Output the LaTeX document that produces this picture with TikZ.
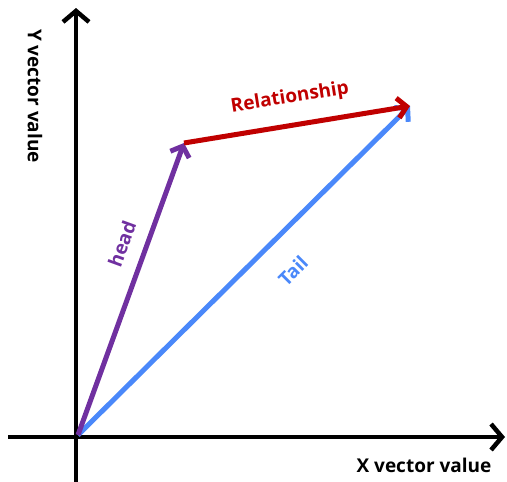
\documentclass[tikz,border=0pt]{standalone}
\usepackage{fontspec}
\setmainfont{Open Sans}
\usetikzlibrary{arrows.meta}
\definecolor{headc}{HTML}{7030A0}
\definecolor{relc}{HTML}{C00000}
\definecolor{tailc}{HTML}{4A88FA}
\tikzset{
  axis/.style={line width=4.5pt, -{Straight Barb[length=11pt,width=26pt,line width=4.5pt]}},
  vec/.style={line width=5pt, -{Straight Barb[length=9pt,width=20pt,line width=5pt]}},
  lbl/.style={font=\bfseries\fontsize{19}{21}\selectfont, inner sep=0pt},
}
\begin{document}
\begin{tikzpicture}[x=1pt,y=-1pt]
\useasboundingbox (0,0) rectangle (507,482);
\coordinate (ybot) at (76,482);
\coordinate (ytop) at (76,8);
\coordinate (xl) at (8,437);
\coordinate (xr) at (505,437);
\coordinate (o) at (78,435);
\coordinate (h) at (184,143);
\coordinate (r) at (410,106);
\draw[axis] (ybot) -- (ytop);
\draw[axis] (xl) -- (xr);
\draw[vec, tailc] (o) -- (r);
\draw[vec, headc] (o) -- (h);
\draw[vec, relc] (h) -- (r);
\node[lbl, relc, rotate=9] (lr) at (290,98) {Relationship};
\node[lbl, headc, rotate=70] (lh) at (122,244) {head};
\node[lbl, tailc, rotate=45] (lt) at (293,271) {Tail};
\node[lbl, black] (lx) at (424,465) {X vector value};
\node[lbl, black, rotate=-90] (ly) at (35,96) {Y vector value};
\end{tikzpicture}
\end{document}
